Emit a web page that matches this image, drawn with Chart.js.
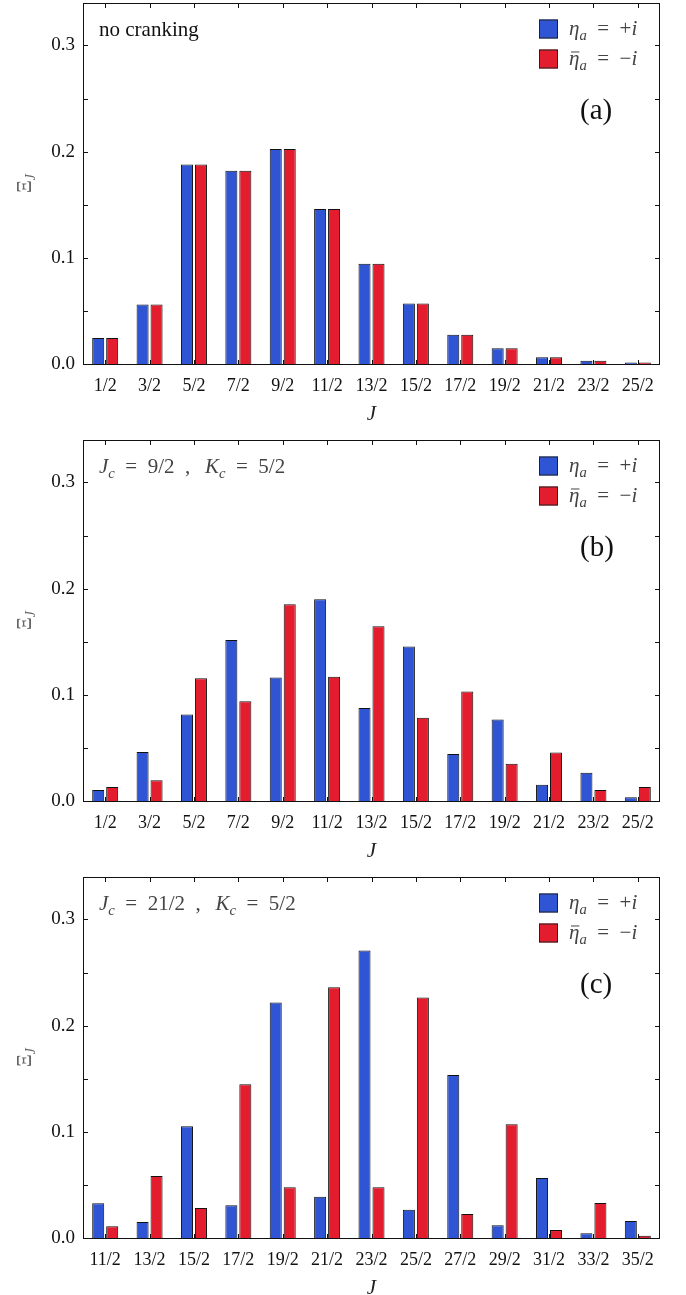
<!DOCTYPE html>
<html><head><meta charset="utf-8">
<script src="https://cdn.jsdelivr.net/npm/chart.js@4.4.1/dist/chart.umd.min.js"></script>
<style>
  html, body { margin: 0; padding: 0; background: #fff; width: 686px; height: 1295px; overflow: hidden; }
  .panel { position: absolute; left: 0; width: 686px; }
</style></head>
<body>
<div class="panel" style="top:0;height:432px"><canvas id="pa"></canvas></div>
<div class="panel" style="top:437px;height:432px"><canvas id="pb"></canvas></div>
<div class="panel" style="top:874px;height:421px"><canvas id="pc"></canvas></div>
<script>
// ---- data (Xi_J vs J)
const J_AB = ["1/2","3/2","5/2","7/2","9/2","11/2","13/2","15/2","17/2","19/2","21/2","23/2","25/2"];
const J_C  = ["11/2","13/2","15/2","17/2","19/2","21/2","23/2","25/2","27/2","29/2","31/2","33/2","35/2"];

const BLUE_A = [0.0245, 0.056, 0.188, 0.182, 0.2025, 0.146, 0.0945, 0.057, 0.0276, 0.0148, 0.0063, 0.0031, 0.0013];
const RED_A  = [0.0245, 0.056, 0.188, 0.182, 0.2025, 0.146, 0.0945, 0.057, 0.0276, 0.0148, 0.0063, 0.0031, 0.0013];

const BLUE_B = [0.0104, 0.0462, 0.0814, 0.1516, 0.1164, 0.190, 0.0877, 0.1456, 0.0443, 0.0767, 0.0154, 0.0267, 0.0035];
const RED_B  = [0.0132, 0.0195, 0.1157, 0.094, 0.1852, 0.117, 0.1645, 0.0783, 0.1031, 0.0352, 0.0456, 0.0104, 0.0132];

const BLUE_C = [0.0327, 0.015, 0.1052, 0.0308, 0.2217, 0.0389, 0.2707, 0.0267, 0.1535, 0.0119, 0.0565, 0.0044, 0.016];
const RED_C  = [0.011, 0.0584, 0.0283, 0.1447, 0.0477, 0.2361, 0.0477, 0.2264, 0.0226, 0.1071, 0.0075, 0.033, 0.0022];

const Y_MAX = 0.34;
const BLUE = "#2f55d4", RED = "#e31d2e";
const SERIF = '"Liberation Serif", "DejaVu Serif", serif';

// draw a run of math-ish text: items are [text, italic, subscript, macron]
function runs(ctx, list, x, y, size) {
  for (const [t, it, sub, bar] of list) {
    const fs = sub ? size * 0.7 : size;
    ctx.font = `${it ? "italic " : ""}${fs}px ${SERIF}`;
    const yy = sub ? y + size * 0.22 : y;
    ctx.fillText(t, x, yy);
    const w = ctx.measureText(t).width;
    if (bar) {
      ctx.save(); ctx.strokeStyle = ctx.fillStyle; ctx.lineWidth = 1;
      ctx.beginPath(); ctx.moveTo(x + 2, yy - size * 0.62); ctx.lineTo(x + w, yy - size * 0.62); ctx.stroke();
      ctx.restore();
    }
    x += w;
  }
  return x;
}
function runsWidth(ctx, list, size) {
  let w = 0;
  for (const [t, it, sub] of list) {
    ctx.font = `${it ? "italic " : ""}${sub ? size * 0.7 : size}px ${SERIF}`;
    w += ctx.measureText(t).width;
  }
  return w;
}

// frame, inward ticks, axis titles, legend and panel notes
const decor = {
  id: "decor",
  afterDraw(chart) {
    const { ctx, chartArea: a, scales: { x, y } } = chart;
    const o = chart.options.plugins.decor;
    ctx.save();
    ctx.strokeStyle = "#111"; ctx.lineWidth = 1;
    ctx.strokeRect(a.left + 0.5, a.top + 0.5, a.width - 1, a.height);
    ctx.beginPath();
    for (let v = 0.05; v < y.max - 0.01; v += 0.05) {
      const py = Math.round(y.getPixelForValue(v)) + 0.5;
      ctx.moveTo(a.left, py); ctx.lineTo(a.left + 5, py);
      ctx.moveTo(a.right, py); ctx.lineTo(a.right - 5, py);
    }
    chart.data.labels.forEach((_, i) => {
      const px = Math.round(x.getPixelForValue(i)) + 0.5;
      ctx.moveTo(px, a.top); ctx.lineTo(px, a.top + 5);
      ctx.moveTo(px, a.bottom); ctx.lineTo(px, a.bottom - 4);
    });
    ctx.stroke();

    ctx.textBaseline = "alphabetic"; ctx.textAlign = "left";
    // x title
    ctx.fillStyle = "#222";
    ctx.font = `italic 21px ${SERIF}`;
    ctx.textAlign = "center";
    ctx.fillText("J", (a.left + a.right) / 2, a.bottom + 56);
    ctx.textAlign = "left";
    // y title (Xi_J, rotated)
    ctx.save();
    ctx.fillStyle = "#666";
    ctx.translate(31, (a.top + a.bottom) / 2);
    ctx.rotate(-Math.PI / 2);
    const yt = [["Ξ", 0], ["J", 1, 1]];
    runs(ctx, yt, -runsWidth(ctx, yt, 20) / 2, 0, 20);
    ctx.restore();

    // legend
    const lx = 539, sq = 19;
    [[BLUE, [["η", 1], ["a", 1, 1], [" = +", 0], ["i", 1]], 26],
     [RED, [["η", 1, 0, 1], ["a", 1, 1], [" = −", 0], ["i", 1]], 56]].forEach(([c, txt, cy]) => {
      ctx.fillStyle = c;
      ctx.fillRect(lx, a.top + cy - sq / 2, sq, sq);
      ctx.strokeStyle = "#222";
      ctx.strokeRect(lx + 0.5, a.top + cy - sq / 2 + 0.5, sq - 1, sq - 1);
      ctx.fillStyle = "#444";
      runs(ctx, txt.map(r => r[0].startsWith(" ") ? [r[0].replace(/ /g, "\u2002"), r[1], r[2], r[3]] : r),
           lx + 30, a.top + cy + 6, 21);
    });

    // panel letter
    ctx.fillStyle = "#111";
    ctx.font = `29px ${SERIF}`;
    ctx.textBaseline = "middle";
    ctx.fillText(o.letter, 580, a.top + 108);
    ctx.textBaseline = "alphabetic";

    // note top-left
    if (o.note) {
      ctx.fillStyle = "#111";
      ctx.font = `21px ${SERIF}`;
      ctx.fillText(o.note, 99, a.top + 33);
    } else {
      ctx.fillStyle = "#444";
      runs(ctx, [["J", 1], ["c", 1, 1], ["\u2002=\u2002" + o.jc + "\u2002,\u2009\u2002", 0],
                 ["K", 1], ["c", 1, 1], ["\u2002=\u2002" + o.kc, 0]], 99, a.top + 33, 21);
    }
    ctx.restore();
  },
};

function makePanel(id, H, labels, blue, red, deco) {
  return new Chart(document.getElementById(id), {
    type: "bar",
    data: {
      labels,
      datasets: [
        { data: blue, backgroundColor: BLUE, borderColor: "#111", borderWidth: 1,
          categoryPercentage: 0.63, barPercentage: 0.86 },
        { data: red, backgroundColor: RED, borderColor: "#111", borderWidth: 1,
          categoryPercentage: 0.63, barPercentage: 0.86 },
      ],
    },
    options: {
      responsive: true, maintainAspectRatio: false, animation: false,
      layout: { padding: { top: 3, right: 26, left: 0, bottom: 0 } },
      plugins: { legend: { display: false }, tooltip: { enabled: false }, decor: deco },
      scales: {
        x: {
          grid: { display: false, drawTicks: false }, border: { display: false },
          ticks: { padding: 11, color: "#111", font: { family: SERIF, size: 18 },
                   maxRotation: 0, autoSkip: false },
          afterFit(s) { s.height = H - 364; s.paddingLeft = 0; s.paddingRight = 0; },
        },
        y: {
          min: 0, max: Y_MAX,
          grid: { display: false, drawTicks: false }, border: { display: false },
          ticks: { stepSize: 0.05, padding: 8, color: "#111", font: { family: SERIF, size: 19 },
                   callback: v => Math.abs(v * 10 - Math.round(v * 10)) < 1e-6 ? v.toFixed(1) : "" },
          afterFit(s) { s.width = 83; s.paddingTop = 0; s.paddingBottom = 0; },
        },
      },
    },
    plugins: [decor],
  });
}

makePanel("pa", 432, J_AB, BLUE_A, RED_A, { letter: "(a)", note: "no cranking" });
makePanel("pb", 432, J_AB, BLUE_B, RED_B, { letter: "(b)", jc: "9/2", kc: "5/2" });
makePanel("pc", 421, J_C, BLUE_C, RED_C, { letter: "(c)", jc: "21/2", kc: "5/2" });
</script>
</body></html>
